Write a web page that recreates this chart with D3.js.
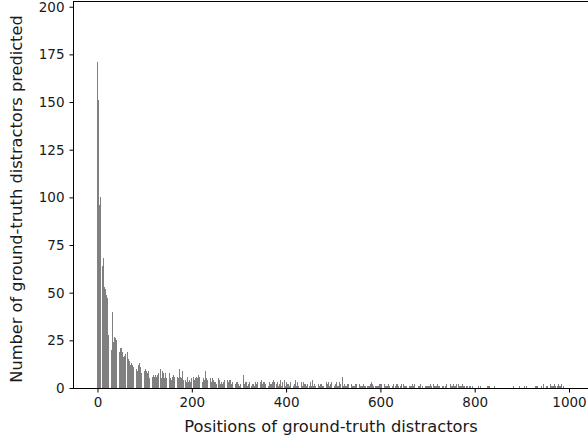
<!DOCTYPE html>
<meta charset="utf-8">
<style>
  body { margin: 0; background: #fff; }
  svg text { font-family: "DejaVu Sans", sans-serif; fill: #1a1a1a; }
</style>
<svg width="588" height="440"></svg>

<script src="https://cdn.jsdelivr.net/npm/d3@7/dist/d3.min.js"></script>
<script>

// counts of predicted distractors at each position 0..999
var counts = [
  171,120,151,98,96,90,100,82,76,71,68,64,60,68,57,53,55,52,50,49,48,47,42,28,35,
  40,31,33,27,24,20,26,40,30,24,25,27,22,26,23,25,21,24,22,23,20,21,19,20,21,
  20,21,17,19,18,16,19,17,15,18,16,18,17,14,19,16,15,13,14,16,12,15,13,15,12,
  13,11,14,12,10,19,12,11,10,13,9,11,12,10,13,9,11,12,8,10,9,15,10,8,11,
  9,8,10,7,9,20,8,6,9,7,5,8,6,9,5,7,8,6,10,7,9,6,8,7,9,
  6,10,7,5,8,9,6,7,8,10,6,5,7,9,6,8,7,5,6,8,3,5,7,4,6,
  10,7,6,8,6,5,7,4,3,6,5,7,4,6,5,3,6,4,7,5,6,8,5,7,10,
  9,6,8,5,7,9,6,4,7,5,6,3,4,5,3,4,6,4,3,5,4,6,3,4,5,
  4,3,5,4,6,3,4,2,5,4,6,3,5,4,7,5,6,4,8,5,6,4,5,3,7,
  5,6,4,7,9,6,5,8,4,6,5,7,4,8,6,5,4,3,4,5,3,4,2,3,2,
  3,4,2,4,3,4,3,5,2,4,3,2,4,3,5,2,4,3,5,4,8,5,3,6,4,
  5,4,6,3,5,4,3,4,5,2,4,3,5,2,3,4,2,3,2,4,3,2,3,1,2,
  2,1,3,2,4,2,3,5,2,4,7,3,2,4,3,2,3,2,1,3,2,4,3,1,2,
  3,2,1,3,2,4,2,3,1,2,3,4,2,1,3,2,4,2,3,1,2,3,2,4,3,
  2,1,3,2,3,4,2,1,3,2,4,3,2,1,2,3,5,2,3,2,1,3,2,4,2,
  3,2,1,2,3,2,4,3,2,1,3,2,2,4,3,1,2,3,2,1,3,2,4,2,1,
  2,3,1,2,4,2,3,1,2,3,2,1,3,2,4,2,1,3,2,2,4,3,1,2,3,
  2,1,2,3,2,4,1,2,3,2,1,2,3,1,2,4,2,3,1,2,2,3,1,2,3,
  1,2,3,2,1,2,4,2,1,3,2,2,1,3,2,1,2,3,1,2,2,1,3,2,1,
  2,3,1,2,1,2,3,2,1,2,2,3,1,2,1,3,2,1,2,2,1,3,1,2,2,
  1,2,3,1,2,2,1,3,2,1,2,1,2,3,1,2,2,1,2,1,6,2,1,3,2,
  2,1,2,1,3,2,1,2,2,1,3,1,2,1,2,2,1,3,1,2,1,2,2,1,2,
  3,1,2,1,2,1,2,2,1,3,1,2,1,1,2,3,1,2,1,2,1,2,3,1,2,
  1,2,1,2,2,1,3,1,2,1,1,2,1,2,3,1,2,1,2,1,2,1,1,2,1,
  2,1,2,1,1,2,1,3,1,2,1,1,2,1,2,1,0,2,1,1,2,1,2,1,1,
  2,1,1,2,1,0,2,1,1,2,1,2,1,1,0,2,1,2,1,1,2,1,0,1,2,
  1,1,2,1,2,1,0,1,2,1,1,2,1,0,1,2,1,1,2,1,1,0,2,1,1,
  2,1,1,2,0,1,1,2,1,1,2,1,0,1,1,2,1,1,2,1,0,1,2,1,1,
  1,2,1,0,1,1,2,1,1,0,2,1,1,2,1,1,0,1,2,1,1,2,1,1,0,
  1,2,1,1,0,1,2,1,2,1,1,0,2,1,1,2,1,0,1,1,2,1,1,0,2,
  1,1,2,1,0,2,1,1,2,1,1,2,1,1,0,1,2,1,1,2,1,3,1,1,2,
  1,1,2,1,1,0,2,1,1,2,1,1,0,1,1,2,1,1,0,1,1,0,1,0,0,
  1,0,0,1,0,1,0,0,1,0,0,0,1,0,0,0,1,0,0,0,0,0,0,0,1,
  0,1,1,0,1,0,1,1,0,1,0,0,1,0,0,0,0,1,0,0,0,0,0,0,1,
  0,0,0,0,0,0,1,0,0,0,0,0,0,0,0,0,1,0,0,0,0,0,0,1,0,
  0,0,1,0,1,0,1,1,1,2,1,0,1,1,0,0,0,1,0,0,1,0,0,1,0,
  0,0,0,1,0,0,1,0,0,0,1,0,0,0,0,1,0,0,0,0,1,0,0,1,0,
  0,1,0,0,1,0,1,0,1,1,0,0,1,2,1,0,1,1,0,0,1,2,1,0,1,
  0,1,1,2,1,0,0,1,0,0,1,2,1,1,0,1,0,1,1,2,2,1,0,1,1,
  2,1,1,2,1,1,0,1,2,2,1,0,1,1,2,2,1,0,0,0,0,0,0,0,0
]
var xTicks = [0, 200, 400, 600, 800, 1000]
var yTicks = [0, 25, 50, 75, 100, 125, 150, 175, 200]
var xLabel = "Positions of ground-truth distractors"
var yLabel = "Number of ground-truth distractors predicted"

var svg = d3.select("svg")

var x = d3.scaleLinear().domain([-51.96, 1050.9]).range([73, 593])
var y = d3.scaleLinear().domain([0, 203]).range([388, 1])

// bars are 0.8 wide; edges snapped to whole pixels, so thin bars either show as 1px or vanish
var bars = counts.map((c, i) => ({pos: i, n: c}))
  .filter(d => d.n > 0)
  .map(d => {
    d.x0 = Math.round(x(d.pos - 0.4))
    d.x1 = Math.round(x(d.pos + 0.4))
    return d
  })
  .filter(d => d.x1 > d.x0)

svg.append("g")
  .style("shape-rendering", "crispEdges")
  .selectAll("rect")
  .data(bars)
  .enter().append("rect")
    .attr("x", d => d.x0)
    .attr("width", d => d.x1 - d.x0)
    .attr("y", d => Math.round(y(d.n)))
    .attr("height", d => 388 - Math.round(y(d.n)))
    .style("fill", "#808080")

// frame
svg.append("rect")
  .attr("x", 73.5).attr("y", 1.5)
  .attr("width", 593 - 73).attr("height", 388 - 1)
  .style("fill", "none")
  .style("stroke", "#000")
  .style("stroke-width", 1)

var xAxis = svg.append("g")
  .attr("transform", "translate(0,388.5)")
  .call(d3.axisBottom(x).tickValues(xTicks).tickSize(4).tickPadding(5).tickFormat(d3.format("d")))
var yAxis = svg.append("g")
  .attr("transform", "translate(73.5,0)")
  .call(d3.axisLeft(y).tickValues(yTicks).tickSize(4).tickPadding(5))

;[xAxis, yAxis].forEach(g => {
  g.select(".domain").remove()
  g.selectAll("line").style("stroke", "#000")
  g.selectAll("text").style("font-size", "13.5px").style("fill", "#1a1a1a")
})

svg.append("text")
  .attr("x", 331).attr("y", 432)
  .attr("text-anchor", "middle")
  .style("font-size", "16.3px")
  .text(xLabel)

svg.append("text")
  .attr("transform", "translate(22,199) rotate(-90)")
  .attr("text-anchor", "middle")
  .style("font-size", "16.2px")
  .text(yLabel)

</script>
